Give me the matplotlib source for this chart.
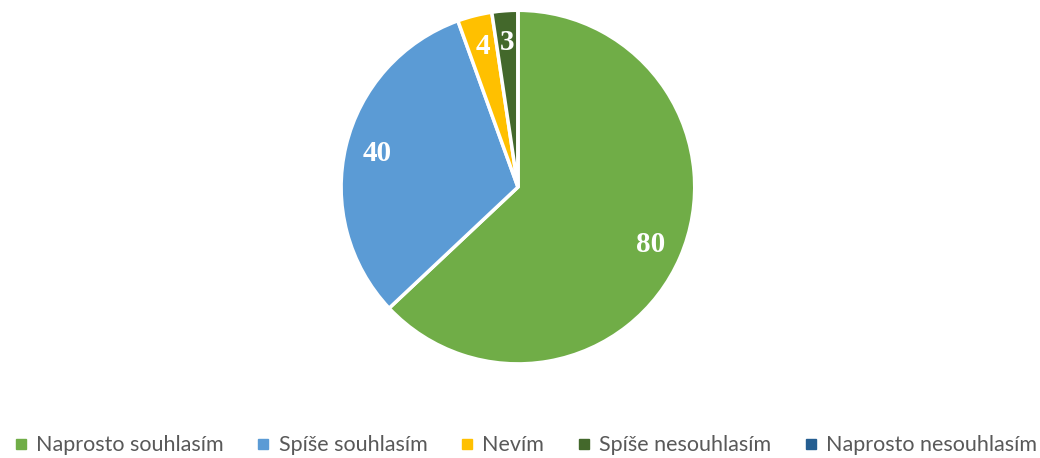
import matplotlib
matplotlib.use("Agg")
import matplotlib.pyplot as plt
from matplotlib.lines import Line2D

# data
labels = ['Naprosto souhlasím', 'Spíše souhlasím', 'Nevím', 'Spíše nesouhlasím', 'Naprosto nesouhlasím']
values = [80, 40, 4, 3, 0]
colors = ['#70AD47', '#5B9BD5', '#FFC000', '#43682B', '#255E91']

total = sum(values)


def fmt(pct):
    v = int(round(pct * total / 100.0))
    if v == 0:
        return ''
    return str(v)


fig = plt.figure(figsize=(10.4, 4.58), dpi=100)
ax = fig.add_axes([0.328, 0.205, 0.340, 0.773])

wedges, texts, autotexts = ax.pie(values, colors=colors, startangle=90, counterclock=False,
                                  autopct=fmt, pctdistance=0.82,
                                  wedgeprops=dict(edgecolor='white', linewidth=2.5),
                                  textprops=dict(color='white', fontsize=21, fontweight='bold',
                                                 family='Liberation Serif'))
ax.set_aspect('equal')
ax.set_xlim(-1, 1)
ax.set_ylim(-1, 1)

# legend at the bottom
handles = [Line2D([0], [0], marker='s', linestyle='none', markersize=7,
                  markerfacecolor=c, markeredgecolor=c) for c in colors]
leg = fig.legend(handles, labels, loc='lower center', ncol=5, frameon=False,
                 bbox_to_anchor=(0.505, -0.036), handlelength=0.7, handletextpad=0.35,
                 columnspacing=1.5, prop=dict(family='Lato', size=15.5))
for t in leg.get_texts():
    t.set_color('#595959')

fig.savefig('out.png', dpi=100)
